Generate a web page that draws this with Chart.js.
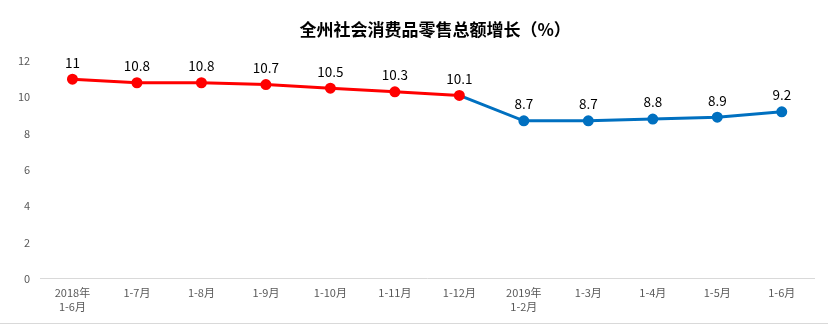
<!DOCTYPE html>
<html>
<head>
<meta charset="utf-8">
<script src="https://cdn.jsdelivr.net/npm/chart.js@4"></script>
<style>
html,body{margin:0;padding:0;background:#fff;}
#wrap{width:828px;height:325px;position:relative;}
</style>
</head>
<body>
<div id="wrap"><canvas id="c" width="828" height="325"></canvas></div>
<script>
const titleText = '全州社会消费品零售总额增长（%）';
const categories = [['2018年','1-6月'],'1-7月','1-8月','1-9月','1-10月','1-11月','1-12月',['2019年','1-2月'],'1-3月','1-4月','1-5月','1-6月'];
const growth = [11, 10.8, 10.8, 10.7, 10.5, 10.3, 10.1, 8.7, 8.7, 8.8, 8.9, 9.2];
const yTicks = [0, 2, 4, 6, 8, 10, 12];
const lastRedIndex = 6;
const RED = '#FF0000', BLUE = '#0070C0';

const cjk = '"Microsoft YaHei","Noto Sans CJK SC","Noto Sans",sans-serif';

const deco = {
  id: 'deco',
  afterDatasetsDraw(chart) {
    const ctx = chart.ctx;
    const meta = chart.getDatasetMeta(0);
    ctx.save();
    ctx.fillStyle = '#000';
    ctx.font = '13.5px ' + cjk;
    ctx.textAlign = 'center';
    ctx.textBaseline = 'bottom';
    meta.data.forEach((pt, i) => {
      ctx.fillText(String(growth[i]), pt.x, pt.y - 10);
    });
    // title
    const ca = chart.chartArea;
    ctx.font = 'bold 17px "Noto Sans CJK SC",sans-serif';
    ctx.textBaseline = 'middle';
    ctx.fillText(titleText, (ca.left + ca.right) / 2 + 8, 30);
    // bottom frame line
    ctx.strokeStyle = '#d9d9d9';
    ctx.lineWidth = 1;
    ctx.beginPath();
    ctx.moveTo(0, chart.height - 1.5);
    ctx.lineTo(chart.width, chart.height - 1.5);
    ctx.stroke();
    ctx.restore();
  }
};

new Chart(document.getElementById('c'), {
  type: 'line',
  data: {
    labels: categories,
    datasets: [{
      data: growth,
      borderWidth: 3,
      pointRadius: 4,
      pointHoverRadius: 4,
      pointBackgroundColor: growth.map((v, i) => i <= lastRedIndex ? RED : BLUE),
      pointBorderColor: growth.map((v, i) => i <= lastRedIndex ? RED : BLUE),
      borderColor: RED,
      segment: {
        borderColor: c => c.p0DataIndex >= lastRedIndex ? BLUE : RED
      },
      tension: 0,
      fill: false
    }]
  },
  options: {
    responsive: false,
    animation: false,
    devicePixelRatio: 1,
    layout: { padding: { left: 8, right: 14, top: 61, bottom: 4 } },
    plugins: { legend: { display: false }, title: { display: false }, tooltip: { enabled: false } },
    scales: {
      x: {
        offset: true,
        grid: { display: false, drawTicks: false },
        border: { display: true, color: '#d9d9d9', width: 1 },
        ticks: { color: '#595959', font: { size: 11, family: cjk }, padding: 8, maxRotation: 0, autoSkip: false }
      },
      y: {
        min: 0, max: 12,
        afterBuildTicks: axis => { axis.ticks = yTicks.map(v => ({ value: v })); },
        grid: { display: false, drawTicks: false },
        border: { display: false },
        ticks: { color: '#595959', font: { size: 11, family: cjk }, padding: 10 }
      }
    }
  },
  plugins: [deco]
});
</script>
</body>
</html>
